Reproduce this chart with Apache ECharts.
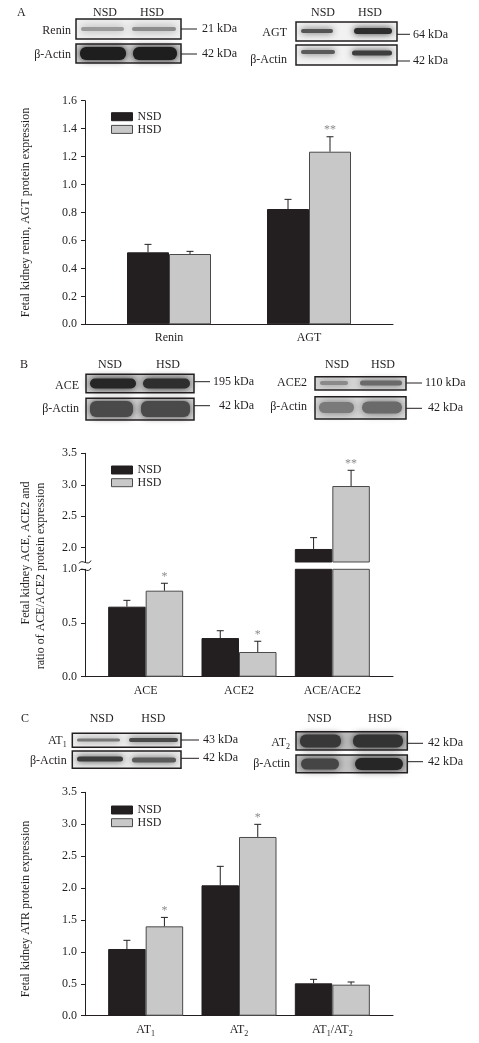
<!DOCTYPE html>
<html><head><meta charset="utf-8">
<script src="https://cdn.jsdelivr.net/npm/echarts@6/dist/echarts.min.js"></script>
<style>html,body{margin:0;padding:0;background:#fff}#c{width:479px;height:1043px}</style>
</head><body><div id="c"></div>
<script>
// ---------- data ----------
const groupNames = ['NSD', 'HSD'];

const catsA = ['Renin', 'AGT'];
const nsdA = [0.515, 0.825];
const nsdSemA = [0.057, 0.069];
const hsdA = [0.503, 1.235];
const hsdSemA = [0.019, 0.107];
const nsdSigA = ['', ''];
const hsdSigA = ['', '**'];
const yTicksA = [0, 0.2, 0.4, 0.6, 0.8, 1.0, 1.2, 1.4, 1.6];

const catsB = ['ACE', 'ACE2', 'ACE/ACE2'];
const nsdB = [0.652, 0.360, 1.98];
const nsdSemB = [0.059, 0.068, 0.18];
const hsdB = [0.801, 0.23, 2.98];
const hsdSemB = [0.069, 0.10, 0.25];
const nsdSigB = ['', '', ''];
const hsdSigB = ['*', '*', '**'];
const yTicksBLow = [0, 0.5, 1.0];
const yTicksBHigh = [2.0, 2.5, 3.0, 3.5];

const catsC = ['AT1', 'AT2', 'AT1/AT2'];
const nsdC = [1.045, 2.043, 0.507];
const nsdSemC = [0.136, 0.297, 0.063];
const hsdC = [1.40, 2.80, 0.486];
const hsdSemC = [0.14, 0.198, 0.042];
const nsdSigC = ['', '', ''];
const hsdSigC = ['*', '*', ''];
const yTicksC = [0, 0.5, 1.0, 1.5, 2.0, 2.5, 3.0, 3.5];

// ---------- styles ----------
const FONT = '"Liberation Serif", "Times New Roman", serif';
const INK = '#231f20';
const DARK = '#231f20';
const LIGHT = '#c8c8c8';
const EDGE = '#4a4a4a';
const STAR = '#8c8c8c';

const subRich = {
  n: {fontFamily: FONT, fontSize: 12, color: INK, lineHeight: 16, verticalAlign: 'middle'},
  s: {fontFamily: FONT, fontSize: 8, color: INK, lineHeight: 16, verticalAlign: 'bottom', padding: [5, 0, 0, 0]}
};
// only the receptor names (AT1, AT2) carry a subscript digit
function subFmt(v) {
  return v.split(/(AT\d)/).filter(t => t !== '')
    .map(t => /^AT\d$/.test(t) ? '{n|AT}{s|' + t[2] + '}' : '{n|' + t + '}').join('');
}

const grids = [], xAxes = [], yAxes = [], series = [], legends = [];

function errSeries(xi, yi, vals, sems, sig, side, p) {
  return {
    type: 'custom', xAxisIndex: xi, yAxisIndex: yi, silent: true, z: 4, clip: false,
    data: vals.map((v, i) => [i, v, v + sems[i]]),
    renderItem(params, api) {
      const i = api.value(0), v = api.value(1), t = api.value(2);
      if (v < p.min || t > p.max) return null;
      const b = api.coord([i, v]), e = api.coord([i, t]);
      const x = b[0] + side * p.bw / 2;
      const ch = [
        {type: 'line', shape: {x1: x, y1: b[1], x2: x, y2: e[1]}, style: {stroke: INK, lineWidth: 1}},
        {type: 'line', shape: {x1: x - 3.5, y1: e[1], x2: x + 3.5, y2: e[1]}, style: {stroke: INK, lineWidth: 1}}
      ];
      if (sig[i]) ch.push({type: 'text', x: x, y: e[1] - 0.5,
        style: {text: sig[i], fill: STAR, font: '12px ' + FONT, textAlign: 'center', textVerticalAlign: 'bottom'}});
      return {type: 'group', children: ch};
    }
  };
}

function panel(p) {
  const g = grids.length;
  grids.push({left: 85, top: p.top, width: 308, height: p.height});
  grids.push({left: 99, top: p.top, width: 280, height: p.height});
  xAxes.push({gridIndex: g, type: 'value', min: 0, max: 1,
    axisLine: {show: p.xLine, onZero: false, lineStyle: {color: INK, width: 1}},
    axisTick: {show: false}, axisLabel: {show: false}, splitLine: {show: false}});
  yAxes.push({gridIndex: g, type: 'value', min: p.min, max: p.max,
    axisLine: {show: true, onZero: false, lineStyle: {color: INK, width: 1}},
    axisTick: {show: true, length: 4, customValues: p.ticks, lineStyle: {color: INK}},
    axisLabel: {customValues: p.ticks, formatter: v => v.toFixed(1), fontFamily: FONT, fontSize: 12, color: INK, margin: 8},
    splitLine: {show: false}});
  xAxes.push({gridIndex: g + 1, type: 'category', data: p.cats,
    axisLine: {show: false}, axisTick: {show: false},
    axisLabel: {show: p.labels, margin: 6, formatter: subFmt, rich: subRich, interval: 0}});
  yAxes.push({gridIndex: g + 1, type: 'value', min: p.min, max: p.max, show: false});
  const xi = xAxes.length - 1, yi = yAxes.length - 1;
  const keep = v => (v >= p.min ? v : '-');
  series.push({type: 'bar', name: groupNames[0], xAxisIndex: xi, yAxisIndex: yi, data: p.nsd.map(keep),
    barWidth: p.bw, barGap: '0%', silent: true, itemStyle: {color: DARK, borderColor: DARK, borderWidth: 1}});
  series.push({type: 'bar', name: groupNames[1], xAxisIndex: xi, yAxisIndex: yi, data: p.hsd.map(keep),
    barWidth: p.bw, barGap: '0%', silent: true, itemStyle: {color: LIGHT, borderColor: EDGE, borderWidth: 1}});
  series.push(errSeries(xi, yi, p.nsd, p.nsdSem, p.nsdSig, -1, p));
  series.push(errSeries(xi, yi, p.hsd, p.hsdSem, p.hsdSig, 1, p));
  if (p.legendTop != null) {
    legends.push({left: 111, top: p.legendTop, orient: 'vertical', padding: 0, itemGap: 0.7,
      itemWidth: 21, itemHeight: 8, icon: 'rect', selectedMode: false,
      textStyle: {fontFamily: FONT, fontSize: 12, color: INK, lineHeight: 12},
      data: [{name: groupNames[0], itemStyle: {color: DARK, borderColor: DARK, borderWidth: 1}},
             {name: groupNames[1], itemStyle: {color: LIGHT, borderColor: EDGE, borderWidth: 1}}]});
  }
}

panel({top: 100.7, height: 223.6, min: 0, max: 1.6, ticks: yTicksA, xLine: true, labels: true, bw: 42,
  cats: catsA, nsd: nsdA, hsd: hsdA, nsdSem: nsdSemA, hsdSem: hsdSemA, nsdSig: nsdSigA, hsdSig: hsdSigA, legendTop: 110.7});
panel({top: 569.3, height: 107.4, min: 0, max: 1.0, ticks: yTicksBLow, xLine: true, labels: true, bw: 37.5,
  cats: catsB, nsd: nsdB, hsd: hsdB, nsdSem: nsdSemB, hsdSem: hsdSemB, nsdSig: nsdSigB, hsdSig: hsdSigB});
panel({top: 453.3, height: 108.7, min: 1.773, max: 3.5, ticks: yTicksBHigh, xLine: false, labels: false, bw: 37.5,
  cats: catsB, nsd: nsdB, hsd: hsdB, nsdSem: nsdSemB, hsdSem: hsdSemB, nsdSig: nsdSigB, hsdSig: hsdSigB, legendTop: 464});
panel({top: 792.3, height: 223.4, min: 0, max: 3.5, ticks: yTicksC, xLine: true, labels: true, bw: 37.5,
  cats: catsC, nsd: nsdC, hsd: hsdC, nsdSem: nsdSemC, hsdSem: hsdSemC, nsdSig: nsdSigC, hsdSig: hsdSigC, legendTop: 804});

// ---------- decorations: western blot panels & texts ----------
const gfx = [];
function txt(x, y, s, align, size) {
  gfx.push({type: 'text', x: x, y: y, silent: true,
    style: {text: subFmt(s), rich: subRich, textAlign: align || 'left', textVerticalAlign: 'middle',
      font: (size || 12) + 'px ' + FONT, fill: INK}});
}
function plain(x, y, s, align) {
  gfx.push({type: 'text', x: x, y: y, silent: true,
    style: {text: s, textAlign: align || 'left', textVerticalAlign: 'middle', font: '12px ' + FONT, fill: INK}});
}
function hline(x1, x2, y) {
  gfx.push({type: 'line', silent: true, shape: {x1: x1, y1: y, x2: x2, y2: y}, style: {stroke: INK, lineWidth: 1}});
}
function blot(x, y, w, h, bg, bands) {
  gfx.push({type: 'rect', silent: true, shape: {x: x, y: y, width: w, height: h}, style: {fill: bg}});
  bands.forEach(b => {
    const hh = b[3];
    gfx.push({type: 'rect', silent: true,
      shape: {x: b[0] + 2, y: b[2] - hh / 2 + 1, width: b[1] - b[0] - 4, height: Math.max(hh - 2, 2), r: Math.min(hh / 2, 6)},
      style: {fill: b[4], shadowBlur: b[5] + 4, shadowColor: b[4]}});
  });
  gfx.push({type: 'rect', silent: true, shape: {x: x, y: y, width: w, height: h},
    style: {fill: 'none', stroke: INK, lineWidth: 1.5}});
}

// Panel A
plain(17, 13, 'A');
plain(105, 13, 'NSD', 'center'); plain(152, 13, 'HSD', 'center');
plain(323, 13, 'NSD', 'center'); plain(370, 13, 'HSD', 'center');
blot(76, 19, 105, 20, '#f0f0f0', [[79, 126, 29, 6, '#9a9a9a', 4], [130, 178, 29, 6, '#8c8c8c', 4]]);
blot(76, 44, 105, 19, '#d0d0d0', [[78, 128, 53.5, 15, '#1e1e1e', 3], [131, 179, 53.5, 15, '#1e1e1e', 3]]);
blot(296, 22, 101, 19, '#f2f2f2', [[299, 335, 31, 6, '#555555', 3], [352, 394, 31, 8, '#2e2e2e', 3]]);
blot(296, 45, 101, 20, '#f2f2f2', [[299, 337, 52, 6, '#5a5a5a', 3], [350, 394, 53, 7, '#3e3e3e', 3]]);
plain(71, 31, 'Renin', 'right'); plain(71, 55, 'β-Actin', 'right');
plain(287, 33, 'AGT', 'right'); plain(287, 60, 'β-Actin', 'right');
hline(181, 197, 29); plain(202, 29, '21 kDa');
hline(181, 197, 54); plain(202, 54, '42 kDa');
hline(397, 410, 34.3); plain(413, 34.5, '64 kDa');
hline(397, 410, 61); plain(413, 61, '42 kDa');

// Panel B
plain(20, 365, 'B');
plain(110, 365, 'NSD', 'center'); plain(168, 365, 'HSD', 'center');
plain(337, 365, 'NSD', 'center'); plain(383, 365, 'HSD', 'center');
blot(86, 374.3, 108, 18.4, '#cfcfcf', [[88, 138, 383.5, 12, '#262626', 4], [141, 192, 383.5, 12, '#2e2e2e', 4]]);
blot(86, 398.3, 108, 21.7, '#d0d0d0', [[88, 135, 409, 18, '#4a4a4a', 3], [139, 192, 409, 18, '#4a4a4a', 3]]);
blot(315, 376.7, 91, 13.3, '#d6d6d6', [[318, 350, 383, 6, '#8a8a8a', 3], [358, 404, 383, 7, '#6a6a6a', 3]]);
blot(315, 396.7, 91, 22.3, '#d8d8d8', [[317, 356, 407.5, 13, '#7a7a7a', 4], [360, 404, 407.5, 14, '#6a6a6a', 4]]);
plain(79, 386, 'ACE', 'right'); plain(79, 409.3, 'β-Actin', 'right');
plain(307, 383, 'ACE2', 'right'); plain(307, 407, 'β-Actin', 'right');
hline(194, 210, 381.7); plain(213, 381.7, '195 kDa');
hline(194, 210, 405.7); plain(219, 405.7, '42 kDa');
hline(406, 422, 383); plain(425, 383, '110 kDa');
hline(406, 422, 408.3); plain(428, 408.3, '42 kDa');

// Panel C
plain(21, 719.3, 'C');
plain(101.7, 719, 'NSD', 'center'); plain(153.3, 719, 'HSD', 'center');
plain(319.3, 719, 'NSD', 'center'); plain(380, 719, 'HSD', 'center');
blot(72.3, 733.3, 108.7, 14, '#f0f0f0', [[75, 122, 740, 5, '#777777', 3], [127, 180, 740, 6, '#4a4a4a', 3]]);
blot(72.3, 751, 108.7, 17.3, '#ececec', [[75, 125, 759, 7, '#3d3d3d', 3], [130, 178, 760, 7, '#5a5a5a', 3]]);
blot(296, 731.7, 111.3, 18.3, '#bdbdbd', [[298, 343, 741, 15, '#383838', 3], [351, 405, 741, 15, '#333333', 3]]);
blot(296, 755, 111.3, 17.7, '#c4c4c4', [[299, 341, 764, 13, '#454545', 4], [353, 405, 764, 14, '#262626', 4]]);
txt(66.7, 740.7, 'AT1', 'right'); plain(66.7, 761, 'β-Actin', 'right');
txt(290, 742.7, 'AT2', 'right'); plain(290, 764, 'β-Actin', 'right');
hline(181, 199, 740); plain(203, 740, '43 kDa');
hline(181, 199, 758.3); plain(203, 758.3, '42 kDa');
hline(407.3, 423, 743.3); plain(428, 743.3, '42 kDa');
hline(407.3, 423, 761.7); plain(428, 761.7, '42 kDa');

// y-axis titles
function vtitle(x, y, s) {
  gfx.push({type: 'text', x: x, y: y, rotation: Math.PI / 2, silent: true,
    style: {text: s, font: '12px ' + FONT, fill: INK, textAlign: 'center', textVerticalAlign: 'middle'}});
}
vtitle(25.5, 212.5, 'Fetal kidney renin, AGT protein expression');
vtitle(26, 553, 'Fetal kidney ACE, ACE2 and');
vtitle(40.5, 576, 'ratio of ACE/ACE2 protein expression');
vtitle(25.5, 909, 'Fetal kidney ATR protein expression');

// axis break marks on panel B
gfx.push({type: 'bezierCurve', silent: true, shape: {x1: 79, y1: 563.5, cpx1: 82, cpy1: 558, cpx2: 88, cpy2: 567, x2: 91, y2: 560.5},
  style: {stroke: INK, lineWidth: 1, fill: 'none'}});
gfx.push({type: 'bezierCurve', silent: true, shape: {x1: 79, y1: 571, cpx1: 82, cpy1: 565.5, cpx2: 88, cpy2: 574.5, x2: 91, y2: 568},
  style: {stroke: INK, lineWidth: 1, fill: 'none'}});

const chart = echarts.init(document.getElementById('c'), null, {renderer: 'canvas'});
chart.setOption({
  animation: false,
  backgroundColor: '#ffffff',
  grid: grids,
  xAxis: xAxes,
  yAxis: yAxes,
  legend: legends,
  series: series,
  graphic: {elements: gfx}
});
</script>
</body></html>
